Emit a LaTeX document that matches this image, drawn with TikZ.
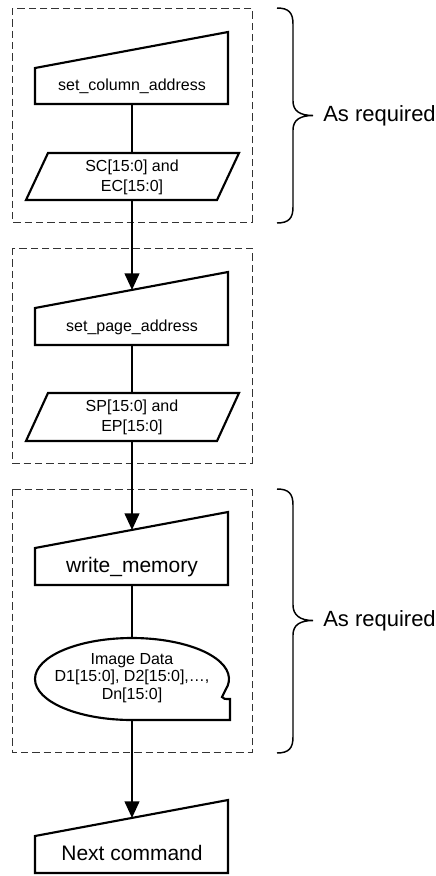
\documentclass[tikz,border=0pt]{standalone}
\usepackage{fontspec}
\setmainfont{Liberation Sans}
\usetikzlibrary{arrows.meta}
\begin{document}
\begin{tikzpicture}[x=0.75pt,y=-0.75pt,
  shapeline/.style={line width=1.6pt,line join=miter},
  conn/.style={line width=1.6pt},
  arr/.style={line width=1.6pt,-{Triangle[length=12.5pt,width=11pt]}},
  grp/.style={line width=0.7pt,dash pattern=on 5.5pt off 3pt,black!80},
  brc/.style={line width=1.1pt},
  small/.style={font=\fontsize{12}{15}\selectfont,align=center,inner sep=0pt},
  smalltight/.style={font=\fontsize{12}{13.3}\selectfont,align=center,inner sep=0pt},
  big/.style={font=\fontsize{15.75}{18}\selectfont,inner sep=0pt},
  side/.style={font=\fontsize{16.5}{19}\selectfont,inner sep=0pt,anchor=west}]
\useasboundingbox (0,0) rectangle (436,876);

% group boxes
\draw[grp] (12,8) rectangle (252,222);
\draw[grp] (12,248) rectangle (252,463);
\draw[grp] (12,489) rectangle (252,752);

% manual input shapes
\draw[shapeline] (35,68) -- (228,32) -- (228,104) -- (35,104) -- cycle;
\draw[shapeline] (35,308) -- (228,272) -- (228,345) -- (35,345) -- cycle;
\draw[shapeline] (35,548) -- (228,512) -- (228,585) -- (35,585) -- cycle;
\draw[shapeline] (35,836) -- (228,800) -- (228,873) -- (35,873) -- cycle;

% parallelograms
\draw[shapeline] (48,153) -- (239,153) -- (217,200) -- (26,200) -- cycle;
\draw[shapeline] (48,393) -- (239,393) -- (217,441) -- (26,441) -- cycle;

% data shape
\draw[shapeline] (132,720) arc[start angle=90,end angle=375.6,x radius=97,y radius=41]
  .. controls (223,693) .. (222,697) .. controls (224,699) .. (230,699) -- (230,720) -- cycle;

% texts
\node[small] (t1) at (132,86) {set\_column\_address};
\node[small] (p1) at (132,177) {SC[15:0] and\\EC[15:0]};
\node[small] (t2) at (132,327) {set\_page\_address};
\node[small] (p2) at (132,417) {SP[15:0] and\\EP[15:0]};
\node[big] (t3) at (132,567) {write\_memory};
\node[smalltight] (d1) at (132,678) {Image Data\\D1[15:0], D2[15:0],\dots,\\Dn[15:0]};
\node[big] (t4) at (132,853) {Next command};

% connector endpoints
\coordinate (s1b) at (132,104);
\coordinate (p1t) at (132,153);
\coordinate (p1b) at (132,200);
\coordinate (s2t) at (132,290);
\coordinate (s2b) at (132,345);
\coordinate (p2t) at (132,393);
\coordinate (p2b) at (132,441);
\coordinate (s3t) at (132,530);
\coordinate (s3b) at (132,585);
\coordinate (d1t) at (132,638);
\coordinate (d1b) at (132,720);
\coordinate (s4t) at (132,818);

\draw[conn] (s1b) -- (p1t);
\draw[arr] (p1b) -- (s2t);
\draw[conn] (s2b) -- (p2t);
\draw[arr] (p2b) -- (s3t);
\draw[conn] (s3b) -- (d1t);
\draw[arr] (d1b) -- (s4t);

% braces
\draw[brc] (277,8) .. controls (289,8) and (293,13) .. (293,24) -- (293,101)
  .. controls (293,111) and (300,115.5) .. (313,115.5)
  .. controls (300,115.5) and (293,120) .. (293,130) -- (293,207)
  .. controls (293,218) and (289,223) .. (277,223);
\draw[brc] (277,489) .. controls (289,489) and (293,494) .. (293,505) -- (293,605)
  .. controls (293,615) and (300,620.5) .. (313,620.5)
  .. controls (300,620.5) and (293,625) .. (293,635) -- (293,737)
  .. controls (293,748) and (289,753) .. (277,753);
\node[side] (r1) at (323,116) {As required};
\node[side] (r2) at (323,621) {As required};
\end{tikzpicture}
\end{document}
